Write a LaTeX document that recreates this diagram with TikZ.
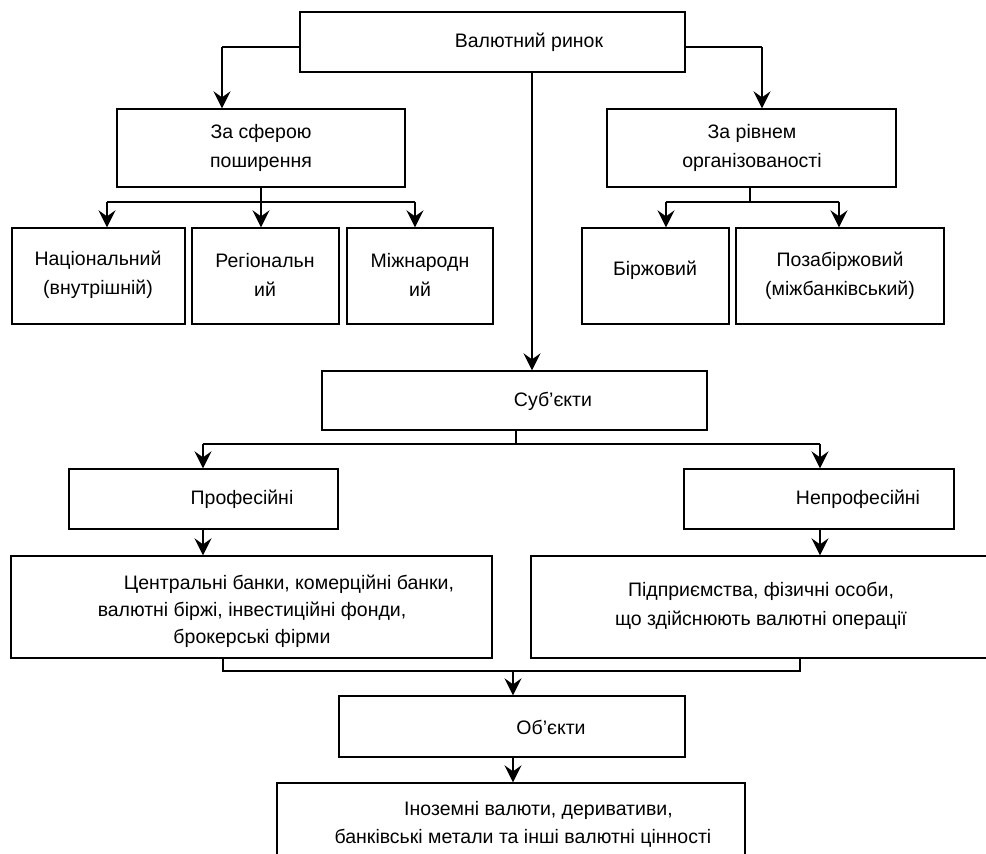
\documentclass[tikz,border=0pt]{standalone}
\usepackage{fontspec}
\setmainfont{Liberation Sans}
\usetikzlibrary{arrows.meta}
\begin{document}
\begin{tikzpicture}[x=1pt,y=-1pt,
  box/.style 2 args={draw, line width=1.3pt, inner sep=0pt, minimum width=#1, minimum height=#2},
  txt/.style={font=\fontsize{19.5}{29}\selectfont, align=center, inner sep=0pt},
  link/.style={line width=1.1pt},
  arr/.style={line width=2.2pt, -{Stealth[length=17pt,width=17pt,inset=6pt]}}]
\useasboundingbox (0,0) rectangle (986,854);
\clip (0,0) rectangle (986,854);

% market
\node[box={385}{60}] (top) at (492.5,42) {};
\node[txt] (ttop) at (529,42) {Валютний ринок};

% classification by scope
\node[box={288}{78}] (sfera) at (261,148) {};
\node[txt] (tsfera) at (261,148) {За сферою\\поширення};
\node[box={173}{96}] (nac) at (98.5,276) {};
\node[txt] (tnac) at (98,275) {Національний\\(внутрішній)};
\node[box={147}{96}] (reg) at (265.5,276) {};
\node[txt] (treg) at (265,275) {Регіональн\\ий};
\node[box={146}{96}] (mizh) at (420,276) {};
\node[txt] (tmizh) at (420,275) {Міжнародн\\ий};

% classification by organisation
\node[box={289}{78}] (riven) at (751.5,148) {};
\node[txt] (triven) at (752,148) {За рівнем\\організованості};
\node[box={147}{96}] (birzh) at (655.5,276) {};
\node[txt] (tbirzh) at (655,270) {Біржовий};
\node[box={208}{96}] (poza) at (840,276) {};
\node[txt] (tpoza) at (840,276) {Позабіржовий\\(міжбанківський)};

% participants
\node[box={385}{59}] (subj) at (514.5,400.5) {};
\node[txt] (tsubj) at (553,401) {Суб’єкти};
\node[box={269}{60}] (prof) at (203.5,499) {};
\node[txt] (tprof) at (242,499) {Професійні};
\node[box={270}{60}] (neprof) at (819,499) {};
\node[txt] (tneprof) at (858,499) {Непрофесійні};
\node[box={481}{102}] (centr) at (251.5,607) {};
\node[txt, font=\fontsize{19.5}{27}\selectfont] (tcentr) at (252,611) {\hspace*{74pt}Центральні банки, комерційні банки,\\валютні біржі, інвестиційні фонди,\\брокерські фірми};
\node[box={469}{102}] (pidpr) at (765.5,607) {};
\node[txt] (tpidpr) at (761,606) {Підприємства, фізичні особи,\\що здійснюють валютні операції};

% objects
\node[box={346}{61}] (obj) at (512,726.5) {};
\node[txt] (tobj) at (551,727) {Об’єкти};
\node[box={468}{87}] (inoz) at (511,826.5) {};
\node[txt, font=\fontsize{19.5}{28}\selectfont] (tinoz) at (523,824) {\hspace*{31pt}Іноземні валюти, деривативи,\\банківські метали та інші валютні цінності};

% connectors from the market
\coordinate (a1) at (222,47);
\coordinate (a2) at (762,47);
\draw[link] (top.west |- a1) -- (a1);
\draw[arr] (a1) -- (a1 |- sfera.north);
\draw[link] (top.east |- a2) -- (a2);
\draw[arr] (a2) -- (a2 |- riven.north);
\draw[arr] (532,72) coordinate (a3) -- (a3 |- subj.north);

% scope branches
\coordinate (b0) at (261,202);
\coordinate (b1) at (107,202);
\coordinate (b3) at (415,202);
\draw[link] (b0 |- sfera.south) -- (b0);
\draw[link] (b1) -- (b3);
\draw[arr] (b1) -- (b1 |- nac.north);
\draw[arr] (b0) -- (b0 |- reg.north);
\draw[arr] (b3) -- (b3 |- mizh.north);

% organisation branches
\coordinate (c0) at (750,202);
\coordinate (c1) at (666,202);
\coordinate (c2) at (839,202);
\draw[link] (c0 |- riven.south) -- (c0);
\draw[link] (c1) -- (c2);
\draw[arr] (c1) -- (c1 |- birzh.north);
\draw[arr] (c2) -- (c2 |- poza.north);

% participant branches
\coordinate (d0) at (516,444);
\coordinate (d1) at (203,444);
\coordinate (d2) at (820,444);
\draw[link] (d0 |- subj.south) -- (d0);
\draw[link] (d1) -- (d2);
\draw[arr] (d1) -- (d1 |- prof.north);
\draw[arr] (d2) -- (d2 |- neprof.north);
\draw[arr] (d1 |- prof.south) -- (d1 |- centr.north);
\draw[arr] (d2 |- neprof.south) -- (d2 |- pidpr.north);

% joining into objects
\coordinate (e1) at (223,671);
\coordinate (e2) at (800,671);
\coordinate (e0) at (513,671);
\draw[link] (e1 |- centr.south) -- (e1) -- (e2) -- (e2 |- pidpr.south);
\draw[arr] (e0) -- (e0 |- obj.north);
\draw[arr] (e0 |- obj.south) -- (e0 |- inoz.north);
\end{tikzpicture}
\end{document}
